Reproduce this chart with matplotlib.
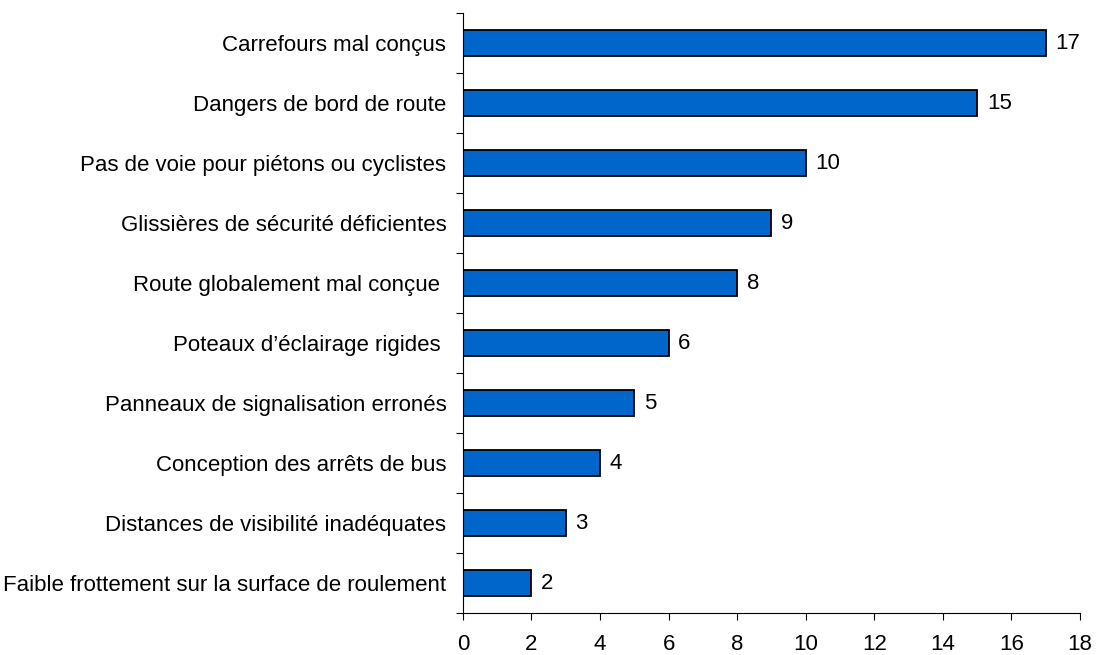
import matplotlib.pyplot as plt
import numpy as np

plt.rcParams['font.family'] = ['Liberation Sans', 'DejaVu Sans']

categories = [
    "Carrefours mal conçus",
    "Dangers de bord de route",
    "Pas de voie pour piétons ou cyclistes",
    "Glissières de sécurité déficientes",
    "Route globalement mal conçue ",
    "Poteaux d’éclairage rigides ",
    "Panneaux de signalisation erronés",
    "Conception des arrêts de bus",
    "Distances de visibilité inadéquates",
    "Faible frottement sur la surface de roulement",
]
values = [17, 15, 10, 9, 8, 6, 5, 4, 3, 2]
xticks = [0, 2, 4, 6, 8, 10, 12, 14, 16, 18]

fig = plt.figure(figsize=(10.97, 6.55), dpi=100)
ax = fig.add_axes([0.422, 0.064, 0.5625, 0.916])

y = np.arange(len(categories))[::-1]
bars = ax.barh(y, values, height=0.42, color='#0066CC', edgecolor='black', linewidth=1.3)

for yi, v in zip(y, values):
    ax.annotate(str(v), (v, yi), xytext=(7, 0), textcoords='offset points',
                va='center', ha='left', fontsize=16)

ax.set_xlim(0, 18)
ax.set_ylim(-0.5, len(categories) - 0.5)
ax.set_xticks(xticks)
ax.set_yticks(y)
ax.set_yticklabels(categories, fontsize=16)
ax.set_yticks(np.arange(len(categories) + 1) - 0.5, minor=True)
ax.tick_params(axis='y', which='major', length=0, pad=12)
ax.tick_params(axis='y', which='minor', length=5, direction='out', width=0.8)
ax.tick_params(axis='x', length=5, direction='out', width=0.8, pad=10, labelsize=16)

for s in ['top', 'right']:
    ax.spines[s].set_visible(False)
for s in ['left', 'bottom']:
    ax.spines[s].set_linewidth(0.8)

fig.savefig('out.png', dpi=100)
